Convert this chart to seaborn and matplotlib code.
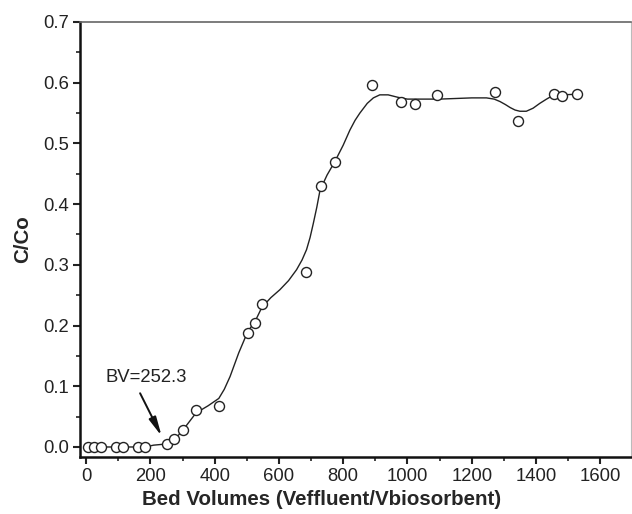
import matplotlib
matplotlib.use("Agg")
import matplotlib.pyplot as plt
import seaborn as sns
import pandas as pd
from matplotlib.ticker import MultipleLocator, FormatStrFormatter

# measured breakthrough points
bed_volumes = [7, 23, 47, 93, 116, 160, 184, 251, 275, 300, 342, 413, 503, 526, 547,
               685, 730, 774, 891, 979, 1025, 1093, 1273, 1345, 1456, 1480, 1528]
c_over_co = [0.0, 0.0, 0.0, 0.0, 0.0, 0.0, 0.0, 0.005, 0.013, 0.028, 0.061, 0.0675, 0.188, 0.204, 0.236,
             0.289, 0.43, 0.47, 0.596, 0.568, 0.565, 0.580, 0.585, 0.537, 0.582, 0.578, 0.5815]

# smooth fitted curve
curve_x = [7, 100, 184, 210, 251, 275, 300, 342, 380, 413, 430, 448, 475, 503, 526, 547, 575, 603,
           630, 655, 672, 686, 697, 707, 718, 728, 750, 774, 800, 821, 837, 852, 875, 894, 914, 940,
           970, 1000, 1060, 1100, 1150, 1200, 1246, 1270, 1288, 1305, 1320, 1335, 1350, 1370, 1391,
           1412, 1433, 1456, 1480, 1528]
curve_y = [0.0, 0.0, 0.0, 0.003, 0.005, 0.012, 0.027, 0.056, 0.068, 0.080, 0.095, 0.116, 0.155, 0.19,
           0.207, 0.230, 0.246, 0.259, 0.274, 0.292, 0.308, 0.325, 0.345, 0.368, 0.395, 0.423, 0.448,
           0.47, 0.497, 0.522, 0.538, 0.55, 0.566, 0.575, 0.58, 0.580, 0.576, 0.573, 0.573, 0.573,
           0.574, 0.575, 0.575, 0.573, 0.569, 0.564, 0.559, 0.555, 0.553, 0.553, 0.558, 0.566, 0.573,
           0.58, 0.58, 0.581]

x_label = "Bed Volumes (Veffluent/Vbiosorbent)"
y_label = "C/Co"
annotation = "BV=252.3"
annotation_pos = (60, 0.114)
arrow_tail = (168, 0.0885)
arrow_head = (235, 0.018)

sns.set_style("ticks")
plt.rcParams['font.family'] = ['Liberation Sans', 'DejaVu Sans']

fig = plt.figure(figsize=(6.32, 5.14), dpi=100)
ax = fig.add_axes([0.1266, 0.1109, 0.8714, 0.8463])

curve_df = pd.DataFrame({"x": curve_x, "y": curve_y})
pts_df = pd.DataFrame({"x": bed_volumes, "y": c_over_co})

sns.lineplot(data=curve_df, x="x", y="y", ax=ax, color="#222222", linewidth=1.0,
             sort=False, estimator=None)
sns.scatterplot(data=pts_df, x="x", y="y", ax=ax, s=52, marker="o",
                facecolor="white", edgecolor="#222222", linewidth=1.0, zorder=3)

ax.set_xlim(-19, 1695)
ax.set_ylim(-0.0165, 0.7)
ax.xaxis.set_major_locator(MultipleLocator(200))
ax.xaxis.set_minor_locator(MultipleLocator(100))
ax.yaxis.set_major_locator(MultipleLocator(0.1))
ax.yaxis.set_minor_locator(MultipleLocator(0.05))
ax.yaxis.set_major_formatter(FormatStrFormatter('%.1f'))

ax.tick_params(which="major", direction="out", length=5, width=1.5, labelsize=13.3,
               colors="#222222", pad=3)
ax.tick_params(which="minor", direction="out", length=3, width=1.2, colors="#222222")

for side in ["left", "bottom"]:
    ax.spines[side].set_linewidth(1.8)
    ax.spines[side].set_color("#111111")
ax.spines["top"].set_linewidth(1.2)
ax.spines["top"].set_color("#666666")
ax.spines["right"].set_linewidth(0.8)
ax.spines["right"].set_color("#bbbbbb")

ax.set_xlabel(x_label, fontsize=14.8, fontweight="bold")
ax.xaxis.set_label_coords(0.439, -0.075)
ax.set_ylabel(y_label, fontsize=14.8, fontweight="bold", labelpad=8)

ax.text(annotation_pos[0], annotation_pos[1], annotation, fontsize=13.3,
        color="#222222", va="center", ha="left")
ax.annotate("", xy=arrow_head, xytext=arrow_tail,
            arrowprops=dict(arrowstyle="-|>,head_length=0.8,head_width=0.16", color="#111111",
                            lw=1.4, shrinkA=0, shrinkB=0, mutation_scale=14))

fig.savefig("out.png", dpi=100, facecolor="white")
